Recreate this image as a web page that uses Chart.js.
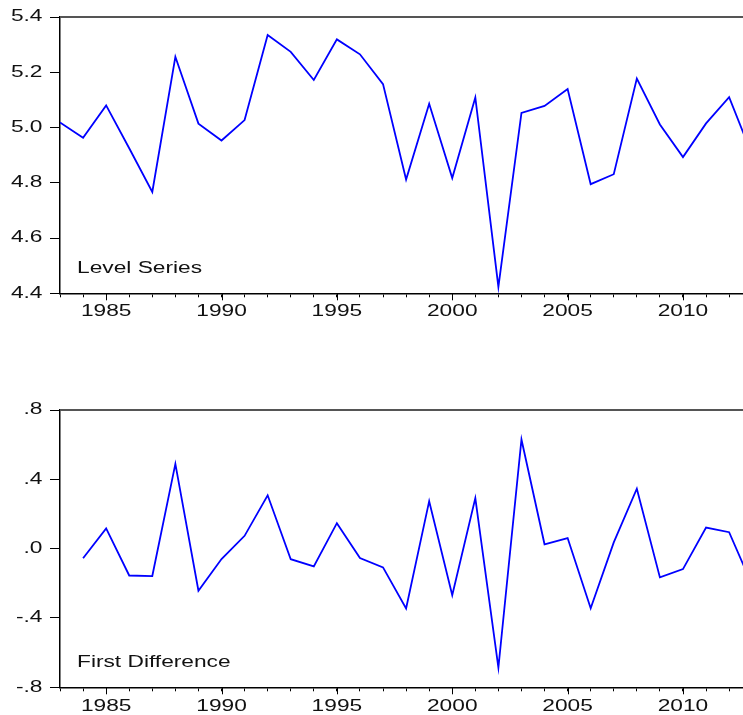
<!DOCTYPE html>
<html>
<head>
<meta charset="utf-8">
<script src="https://cdn.jsdelivr.net/npm/chart.js@4.4.1/dist/chart.umd.min.js"></script>
<style>
  html, body { margin: 0; padding: 0; background: #fff; overflow: hidden; width: 743px; height: 715px; }
  canvas { position: absolute; left: 0; }
  #levelChart { top: 0; }
  #diffChart { top: 355px; }
</style>
</head>
<body>
<canvas id="levelChart" width="780" height="355"></canvas>
<canvas id="diffChart" width="780" height="360"></canvas>
<script>
// Annual observations, 1983-2013
const levelYears = [1983, 1984, 1985, 1986, 1987, 1988, 1989, 1990, 1991, 1992,
                    1993, 1994, 1995, 1996, 1997, 1998, 1999, 2000, 2001, 2002,
                    2003, 2004, 2005, 2006, 2007, 2008, 2009, 2010, 2011, 2012, 2013];
const levelValues = [5.018, 4.963, 5.080, 4.925, 4.767, 5.256, 5.014, 4.953, 5.027, 5.335,
                     5.274, 5.172, 5.319, 5.265, 5.157, 4.812, 5.086, 4.817, 5.109, 4.423,
                     5.053, 5.078, 5.139, 4.795, 4.831, 5.177, 5.011, 4.893, 5.015, 5.110, 4.900];

const diffYears = [1984, 1985, 1986, 1987, 1988, 1989, 1990, 1991, 1992,
                   1993, 1994, 1995, 1996, 1997, 1998, 1999, 2000, 2001, 2002,
                   2003, 2004, 2005, 2006, 2007, 2008, 2009, 2010, 2011, 2012, 2013];
const diffValues = [-0.055, 0.117, -0.155, -0.158, 0.489, -0.243, -0.060, 0.074, 0.308,
                    -0.061, -0.102, 0.147, -0.054, -0.108, -0.345, 0.274, -0.269, 0.292, -0.686,
                    0.630, 0.025, 0.061, -0.344, 0.036, 0.346, -0.166, -0.118, 0.122, 0.095, -0.210];

// Axis ticks and labels
const yearLabels = [1985, 1990, 1995, 2000, 2005, 2010];
const levelTickValues = [5.4, 5.2, 5.0, 4.8, 4.6, 4.4];
const levelTickLabels = ['5.4', '5.2', '5.0', '4.8', '4.6', '4.4'];
const diffTickValues = [0.8, 0.4, 0.0, -0.4, -0.8];
const diffTickLabels = ['.8', '.4', '.0', '-.4', '-.8'];

const FONT = '16px "Liberation Sans", Arial, sans-serif';
const STRETCH = 1.42;

// Text is drawn slightly widened, like the original graph output
function wideText(ctx, text, x, y, align, baseline) {
  ctx.save();
  ctx.translate(x, y);
  ctx.scale(STRETCH, 1);
  ctx.font = FONT;
  ctx.fillStyle = '#111';
  ctx.textAlign = align;
  ctx.textBaseline = baseline;
  ctx.fillText(text, 0, 0);
  ctx.restore();
}

function panelPlugin(tickValues, tickLabels, title, titleBaseline, xLabelBaseline) {
  return {
    id: 'panelDecor',
    afterDraw(chart) {
      const { ctx, chartArea, scales } = chart;
      // upper frame line
      ctx.save();
      ctx.strokeStyle = '#555';
      ctx.lineWidth = 2;
      ctx.beginPath();
      ctx.moveTo(chartArea.left, chartArea.top);
      ctx.lineTo(chartArea.right, chartArea.top);
      ctx.stroke();
      // longer marks at the labelled years
      ctx.strokeStyle = '#000';
      ctx.lineWidth = 1;
      yearLabels.forEach(yr => {
        const x = Math.round(scales.x.getPixelForValue(yr)) + 0.5;
        ctx.beginPath();
        ctx.moveTo(x, chartArea.bottom);
        ctx.lineTo(x, chartArea.bottom + 7);
        ctx.stroke();
      });
      ctx.restore();
      tickValues.forEach((v, i) =>
        wideText(ctx, tickLabels[i], 42.5, scales.y.getPixelForValue(v), 'right', 'middle'));
      yearLabels.forEach(yr =>
        wideText(ctx, String(yr), scales.x.getPixelForValue(yr), xLabelBaseline, 'center', 'alphabetic'));
      wideText(ctx, title, 77, titleBaseline, 'left', 'alphabetic');
    }
  };
}

function makePanel(id, years, values, yMin, yMax, tickValues, tickLabels, title, padTop, xHeight, titleBaseline, xLabelBaseline) {
  return new Chart(document.getElementById(id), {
    type: 'line',
    data: {
      datasets: [{
        data: years.map((yr, i) => ({ x: yr, y: values[i] })),
        borderColor: '#0000ff',
        borderWidth: 1.8,
        pointRadius: 0,
        tension: 0,
        fill: false
      }]
    },
    options: {
      responsive: false,
      animation: false,
      devicePixelRatio: 1,
      layout: { padding: { top: padTop, left: 0, right: 27.8, bottom: 0 } },
      plugins: { legend: { display: false }, tooltip: { enabled: false } },
      scales: {
        x: {
          type: 'linear',
          min: 1983,
          max: 2013,
          afterBuildTicks: s => { s.ticks = levelYears.map(v => ({ value: v })); },
          afterFit: s => { s.height = xHeight; },
          ticks: { display: false },
          grid: { drawOnChartArea: false, drawTicks: true, tickLength: 4, color: '#000', tickWidth: 1 },
          border: { display: true, color: '#000', width: 1.5 }
        },
        y: {
          min: yMin,
          max: yMax,
          afterBuildTicks: s => { s.ticks = tickValues.map(v => ({ value: v })); },
          afterFit: s => { s.width = 60; },
          ticks: { display: false },
          grid: { drawOnChartArea: false, drawTicks: true, tickLength: 10, color: '#000', tickWidth: 1 },
          border: { display: true, color: '#000', width: 1.5 }
        }
      }
    },
    plugins: [panelPlugin(tickValues, tickLabels, title, titleBaseline, xLabelBaseline)]
  });
}

makePanel('levelChart', levelYears, levelValues, 4.4, 5.4, levelTickValues, levelTickLabels,
          'Level Series', 17, 61.7, 273.3, 316);
makePanel('diffChart', diffYears, diffValues, -0.8, 0.8, diffTickValues, diffTickLabels,
          'First Difference', 55, 27.7, 312.3, 356);
</script>
</body>
</html>
